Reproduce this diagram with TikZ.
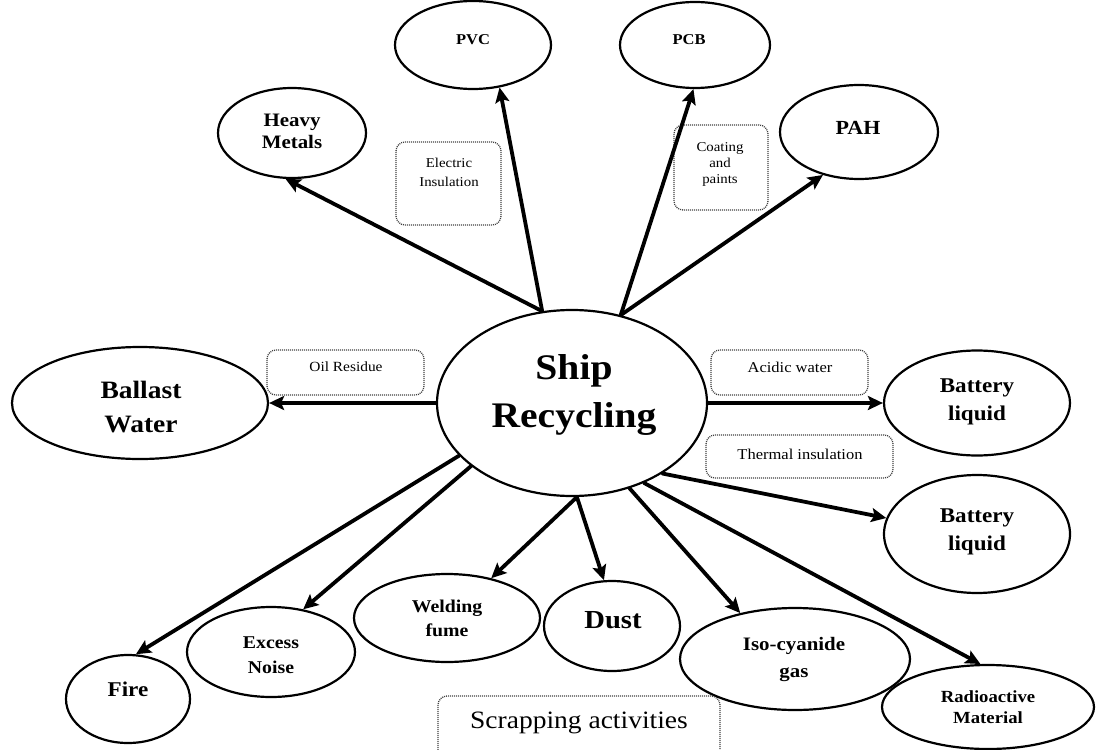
\documentclass[tikz,border=0pt]{standalone}
\usepackage{fontspec}
\setmainfont{Liberation Serif}[FakeStretch=1.1]
\usetikzlibrary{shapes.geometric,arrows.meta}
\newcommand{\fsz}[2]{\fontsize{#1}{#2}\selectfont}

\begin{document}
\begin{tikzpicture}[x=1pt, y=-1pt, line cap=round, line join=round,
  bubble/.style={draw, ellipse, line width=2.2pt, inner sep=0pt},
  note/.style={draw=black!75, line width=1.3pt, line cap=butt, dash pattern=on 1pt off 1pt,
               rounded corners=9pt, inner sep=0pt},
  word/.style={align=center, inner sep=0pt},
  spoke/.style={line width=3.8pt, -{Stealth[length=15pt, width=14pt, inset=3pt]}}]
  \useasboundingbox (0,0) rectangle (1107,749);

  % hub
  \node[bubble, minimum width=270, minimum height=186] (ship) at (572,403) {};
  \node[word, font=\bfseries\fsz{36}{48}] (ship-t) at (574,395) {Ship\\Recycling};

  % upper ring
  \node[bubble, minimum width=148, minimum height=90] (heavy) at (292,133) {};
  \node[word, font=\bfseries\fsz{19}{22}] (heavy-t) at (292,131) {Heavy\\Metals};
  \node[bubble, minimum width=156, minimum height=88] (pvc) at (473,45) {};
  \node[word, font=\bfseries\fsz{15}{18}] (pvc-t) at (473,40) {PVC};
  \node[bubble, minimum width=150, minimum height=86] (pcb) at (695,45) {};
  \node[word, font=\bfseries\fsz{15}{18}] (pcb-t) at (689,40) {PCB};
  \node[bubble, minimum width=158, minimum height=94] (pah) at (859,132) {};
  \node[word, font=\bfseries\fsz{20}{24}] (pah-t) at (858,128) {PAH};

  % left and right
  \node[bubble, minimum width=256, minimum height=112] (ballast) at (140,403) {};
  \node[word, font=\bfseries\fsz{25}{34}] (ballast-t) at (141,407) {Ballast\\Water};
  \node[bubble, minimum width=186, minimum height=105] (bat1) at (977,403) {};
  \node[word, font=\bfseries\fsz{21}{28}] (bat1-t) at (977,402) {Battery\\liquid};
  \node[bubble, minimum width=186, minimum height=118] (bat2) at (977,534) {};
  \node[word, font=\bfseries\fsz{21}{28}] (bat2-t) at (977,532) {Battery\\liquid};

  % lower ring
  \node[bubble, minimum width=212, minimum height=84] (radio) at (988,707) {};
  \node[word, font=\bfseries\fsz{17}{21}] (radio-t) at (988,707) {Radioactive\\Material};
  \node[bubble, minimum width=230, minimum height=102] (iso) at (795,659) {};
  \node[word, font=\bfseries\fsz{19}{27}] (iso-t) at (794,659) {Iso-cyanide\\gas};
  \node[bubble, minimum width=136, minimum height=90] (dust) at (612,626) {};
  \node[word, font=\bfseries\fsz{26}{30}] (dust-t) at (613,620) {Dust};
  \node[bubble, minimum width=186, minimum height=88] (weld) at (447,618) {};
  \node[word, font=\bfseries\fsz{18}{24}] (weld-t) at (447,618) {Welding\\fume};
  \node[bubble, minimum width=168, minimum height=90] (excess) at (271,652) {};
  \node[word, font=\bfseries\fsz{18}{25}] (excess-t) at (271,655) {Excess\\Noise};
  \node[bubble, minimum width=124, minimum height=88] (fire) at (128,699) {};
  \node[word, font=\bfseries\fsz{21}{25}] (fire-t) at (128,689) {Fire};

  % dotted notes
  \node[note, minimum width=105, minimum height=83] (elec) at (448.5,183.5) {};
  \node[word, font=\fsz{13.5}{19}] (elec-t) at (449,172) {Electric\\Insulation};
  \node[note, minimum width=94, minimum height=85] (coat) at (721,167.5) {};
  \node[word, font=\fsz{13.5}{16}] (coat-t) at (720,164) {Coating\\and\\paints};
  \node[note, minimum width=157, minimum height=45] (oil) at (345.5,372.5) {};
  \node[word, font=\fsz{14}{17}] (oil-t) at (346,367) {Oil Residue};
  \node[note, minimum width=157, minimum height=45] (acid) at (789.5,372.5) {};
  \node[word, font=\fsz{15}{18}] (acid-t) at (790,367) {Acidic water};
  \node[note, minimum width=187, minimum height=43] (therm) at (799.5,456.5) {};
  \node[word, font=\fsz{15}{18}] (therm-t) at (800,454) {Thermal insulation};
  \node[note, minimum width=282, minimum height=70] (scrap) at (579,731) {};
  \node[word, font=\fsz{25}{30}] (scrap-t) at (579,723) {Scrapping activities};

  % spokes out of the hub
  \draw[spoke] (ship.108) -- (heavy.262);
  \draw[spoke] (ship.108) -- (pvc.302);
  \draw[spoke] (ship.61) -- (pcb.268);
  \draw[spoke] (ship.61) -- (pah.230);
  \draw[spoke] (ship.west) -- (ballast.east);
  \draw[spoke] (ship.east) -- (bat1.west);
  \draw[spoke] (ship.322) -- (bat2.170);
  \draw[spoke] (ship.312) -- (radio.100);
  \draw[spoke] (ship.304) -- (iso.140);
  \draw[spoke] (ship.273) -- (dust.100);
  \draw[spoke] (ship.273) -- (weld.42);
  \draw[spoke] (ship.212) -- (excess.53);
  \draw[spoke] (ship.205) -- (fire.80);
\end{tikzpicture}
\end{document}
